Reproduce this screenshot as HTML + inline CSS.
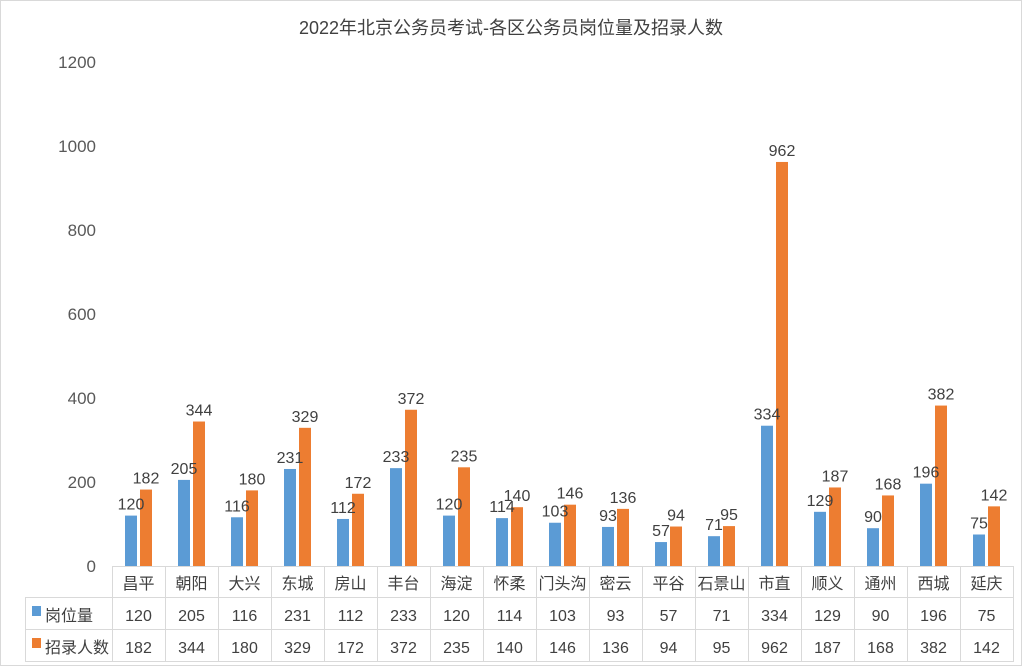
<!DOCTYPE html>
<html><head><meta charset="utf-8"><style>
html,body{margin:0;padding:0;background:#fff;}
svg{display:block;font-family:"Liberation Sans","Noto Sans CJK SC",sans-serif;}
</style></head><body>
<svg id="s" width="1022" height="666" viewBox="0 0 1022 666">
<rect width="1022" height="666" fill="#fff"/>
<rect x="0.5" y="0.5" width="1021" height="665" fill="none" stroke="#d9d9d9"/>
<text x="511" y="34" text-anchor="middle" font-size="18" fill="#404040">2022年北京公务员考试-各区公务员岗位量及招录人数</text>
</svg>
<script>
var s=document.getElementById('s'),NS='http://www.w3.org/2000/svg';
function el(t,a,txt){var e=document.createElementNS(NS,t);for(var k in a)e.setAttribute(k,a[k]);if(txt!==undefined)e.textContent=txt;s.appendChild(e);return e;}
var names=['昌平','朝阳','大兴','东城','房山','丰台','海淀','怀柔','门头沟','密云','平谷','石景山','市直','顺义','通州','西城','延庆'];
var a=[120,205,116,231,112,233,120,114,103,93,57,71,334,129,90,196,75];
var b=[182,344,180,329,172,372,235,140,146,136,94,95,962,187,168,382,142];
var y0=566,k=0.42,L=112,W=53;
for(var v=0;v<=1200;v+=200){el('text',{x:96,y:y0-v*k+6,'text-anchor':'end','font-size':17,fill:'#595959'},v);}
for(var i=0;i<17;i++){
 var c=L+W*i+26.5;
 var ha=a[i]*k,hb=b[i]*k;
 el('rect',{x:c-13.5,y:y0-ha,width:12,height:ha,fill:'#5b9bd5'});
 el('rect',{x:c+1.5,y:y0-hb,width:12,height:hb,fill:'#ed7d31'});
 el('text',{x:c-7.5,y:y0-ha-6,'text-anchor':'middle','font-size':16,fill:'#404040'},a[i]);
 el('text',{x:c+7.5,y:y0-hb-6,'text-anchor':'middle','font-size':16,fill:'#404040'},b[i]);
 el('text',{x:c,y:589,'text-anchor':'middle','font-size':16,fill:'#404040'},names[i]);
 el('text',{x:c,y:621,'text-anchor':'middle','font-size':16,fill:'#404040'},a[i]);
 el('text',{x:c,y:653,'text-anchor':'middle','font-size':16,fill:'#404040'},b[i]);
}
var R=L+W*17;
function ln(x1,y1,x2,y2){el('line',{x1:x1,y1:y1,x2:x2,y2:y2,stroke:'#d9d9d9','stroke-width':1});}
ln(L,566.5,R,566.5);ln(25,597.5,R,597.5);ln(25,629.5,R,629.5);ln(25,661.5,R,661.5);
ln(25.5,597,25.5,662);
for(var i=0;i<=17;i++){ln(L+W*i+0.5,566,L+W*i+0.5,662);}
el('rect',{x:32,y:606,width:9,height:10,fill:'#5b9bd5'});
el('text',{x:45,y:621,'font-size':16,fill:'#404040'},'岗位量');
el('rect',{x:32,y:638,width:9,height:10,fill:'#ed7d31'});
el('text',{x:45,y:653,'font-size':16,fill:'#404040'},'招录人数');
</script>
</body></html>
